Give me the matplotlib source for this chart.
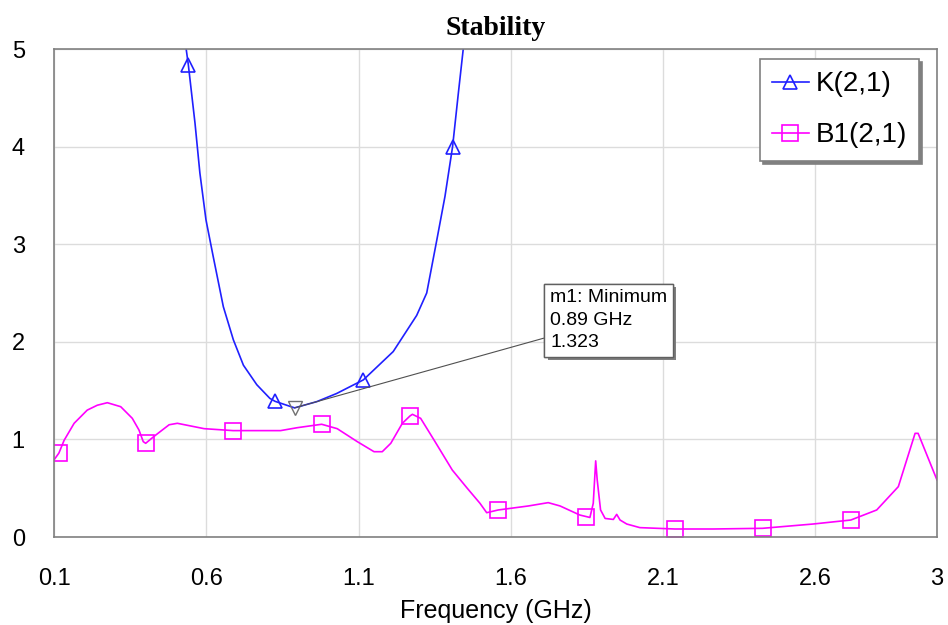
import matplotlib
matplotlib.use('Agg')
import matplotlib.pyplot as plt
import matplotlib.patheffects as pe

plt.rcParams['font.family'] = ['Liberation Sans', 'DejaVu Sans']

# K(2,1): factor de estabilidad
k_freq = [0.52, 0.534, 0.541, 0.563, 0.579, 0.599, 0.623, 0.656, 0.689, 0.722,
          0.766, 0.809, 0.826, 0.89, 0.963, 1.028, 1.116, 1.214, 1.291, 1.324,
          1.357, 1.384, 1.409, 1.428, 1.444, 1.455]
k_val = [5.3, 5.0, 4.84, 4.24, 3.73, 3.25, 2.87, 2.36, 2.02, 1.76,
         1.56, 1.42, 1.39, 1.323, 1.387, 1.47, 1.61, 1.90, 2.27, 2.50,
         3.04, 3.49, 4.0, 4.55, 5.0, 5.4]
k_marks = [2, 12, 16, 22]

# B1(2,1)
b_freq = [0.1, 0.116, 0.133, 0.166, 0.209, 0.242, 0.275, 0.319, 0.357, 0.379,
          0.393, 0.401, 0.428, 0.478, 0.505, 0.593, 0.688, 0.844, 0.899, 0.979,
          1.03, 1.096, 1.151, 1.178, 1.206, 1.244, 1.269, 1.277, 1.304, 1.348,
          1.408, 1.457, 1.499, 1.521, 1.559, 1.658, 1.723, 1.762, 1.827, 1.847,
          1.860, 1.871, 1.879, 1.884, 1.895, 1.91, 1.937, 1.948, 1.959, 1.981,
          2.024, 2.139, 2.265, 2.427, 2.593, 2.717, 2.802, 2.873, 2.928, 2.938,
          3.0]
b_val = [0.79, 0.86, 0.99, 1.165, 1.30, 1.35, 1.376, 1.335, 1.216, 1.096,
         0.977, 0.96, 1.03, 1.15, 1.165, 1.11, 1.09, 1.09, 1.12, 1.155,
         1.11, 0.977, 0.874, 0.874, 0.96, 1.165, 1.24, 1.257, 1.216, 0.994,
         0.686, 0.50, 0.345, 0.249, 0.277, 0.318, 0.352, 0.318, 0.225, 0.21,
         0.20, 0.345, 0.78, 0.584, 0.277, 0.19, 0.18, 0.232, 0.174, 0.133,
         0.096, 0.082, 0.082, 0.089, 0.133, 0.174, 0.277, 0.516, 1.062, 1.062,
         0.584]
b_marks = [1, 11, 16, 19, 26, 34, 39, 51, 53, 55]

# marcador m1 (minimo de K)
m1_freq = 0.89
m1_val = 1.323

x_ticks = [0.1, 0.6, 1.1, 1.6, 2.1, 2.6, 3.0]
x_labels = ['0.1', '0.6', '1.1', '1.6', '2.1', '2.6', '3']
y_ticks = [0, 1, 2, 3, 4, 5]

fig = plt.figure(figsize=(9.48, 6.25), dpi=100)
ax = fig.add_axes([0.057, 0.1408, 0.9314, 0.7808])

ax.plot(k_freq, k_val, color='#2020ff', lw=1.2, marker='^', ms=10.5,
        mfc='none', mec='#2020ff', mew=1.2, markevery=k_marks, label='K(2,1)')
ax.plot(b_freq, b_val, color='#ff00ff', lw=1.2, marker='s', ms=11,
        mfc='none', mec='#ff00ff', mew=1.2, markevery=b_marks, label='B1(2,1)')

ax.plot([m1_freq], [m1_val], marker='v', ms=10, mfc='none', mec='#707070',
        mew=1, ls='none')

ann = ax.annotate('m1: Minimum\n0.89 GHz\n1.323', xy=(m1_freq, m1_val),
                  xytext=(1.729, 2.223), fontsize=14, ha='left', va='center',
                  linespacing=1.4,
                  bbox=dict(boxstyle='square,pad=0.3', fc='white', ec='#606060', lw=1),
                  arrowprops=dict(arrowstyle='-', color='#505050', lw=0.8,
                                  shrinkA=0, shrinkB=0))
ann.get_bbox_patch().set_path_effects([
    pe.withSimplePatchShadow(offset=(2.5, -2.5), shadow_rgbFace='#808080', alpha=1),
    pe.Normal()])

ax.set_xlim(0.1, 3.0)
ax.set_ylim(0, 5)
ax.set_xticks(x_ticks)
ax.set_xticklabels(x_labels)
ax.set_yticks(y_ticks)
ax.tick_params(axis='both', length=0, labelsize=17)
ax.tick_params(axis='x', pad=22)
ax.tick_params(axis='y', pad=21)
ax.grid(True, color='#dcdcdc', lw=1)
ax.set_axisbelow(True)
for s in ax.spines.values():
    s.set_color('#808080')
    s.set_linewidth(1.2)

ax.set_xlabel('Frequency (GHz)', fontsize=18, labelpad=7)
ax.set_title('Stability', fontfamily='Liberation Serif', fontweight='bold',
             fontsize=20, pad=10)

leg = ax.legend(loc='upper right', bbox_to_anchor=(0.98, 0.98), borderaxespad=0,
                fontsize=20, handlelength=1.3, handletextpad=0.25,
                labelspacing=0.9, borderpad=0.45, fancybox=False, framealpha=1,
                edgecolor='#808080', shadow={'color': '#808080', 'alpha': 1})
leg.get_frame().set_linewidth(1.2)

fig.savefig('out.png', dpi=100)
